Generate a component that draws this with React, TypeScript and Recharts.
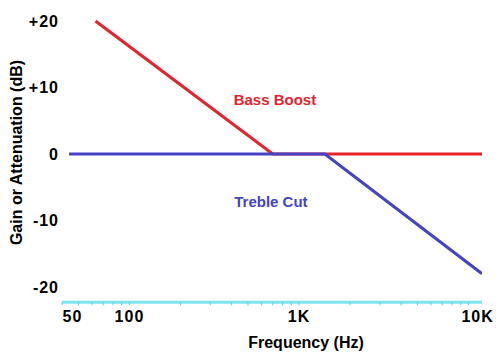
import { Line, LineChart, ReferenceDot, XAxis, YAxis } from "recharts";

// log-frequency axis, Hz
const freqTicks = [
  40, 50, 60, 70, 80, 90, 100, 200, 300, 400, 500, 600, 700, 800, 900, 1000,
  2000, 3000, 4000, 5000, 6000, 7000, 8000, 9000, 10000,
];
const freqLabels: Record<number, string> = { 50: "50", 100: "100", 1000: "1K", 10000: "10K" };
const gainTicks = [-20, -10, 0, 10, 20];

// bass boost: rises below ~700 Hz
const bassFreq = [63, 700, 12000];
const bassGain = [20, 0, 0];

// treble cut: falls above ~1.4 kHz
const trebleFreq = [44, 1420, 12000];
const trebleGain = [0, 0, -18];

const bass = bassFreq.map((f, i) => ({ f, db: bassGain[i] }));
const treble = trebleFreq.map((f, i) => ({ f, db: trebleGain[i] }));

const RED = "#e4232b";
const BLUE = "#4343c4";
const FONT = "'Liberation Sans', Arial, sans-serif";

// the original nudges the end labels a little off their ticks
const labelNudge: Record<number, number> = { 50: -6, 10000: 9 };

function FreqTick({ x, y, payload }: any) {
  const v = payload.value as number;
  const text = freqLabels[v];
  if (!text) return null;
  return (
    <text
      x={x + (labelNudge[v] ?? 0)}
      y={y}
      dy="0.71em"
      textAnchor="middle"
      fontSize={16}
      fontWeight="bold"
      letterSpacing={1}
      fill="#000"
      fontFamily={FONT}
    >
      {text}
    </text>
  );
}

export default function App() {
  return (
    <div style={{ position: "absolute", left: 0, top: 0, width: 500, height: 363, background: "#fff" }}>
      <LineChart
        width={500}
        height={363}
        margin={{ top: 5.7, right: 18, bottom: 10.7, left: 12 }}
        style={{ fontFamily: FONT }}
      >
        <XAxis
          dataKey="f"
          type="number"
          scale="log"
          domain={[40, 12000]}
          ticks={freqTicks}
          interval={0}
          allowDataOverflow
          height={50}
          stroke="#7de3ef"
          axisLine={{ stroke: "#7de3ef", strokeWidth: 3 }}
          tickLine={{ stroke: "#5cd3e3" }}
          tickSize={3}
          tickMargin={5}
          tick={<FreqTick />}
          label={{
            content: () => (
              <text x={306} y={348} textAnchor="middle" fontSize={16} fontWeight="bold" fill="#000" fontFamily={FONT}>
                Frequency (Hz)
              </text>
            ),
          }}
        />
        <YAxis
          type="number"
          domain={[-22.3, 22.3]}
          ticks={gainTicks}
          width={50}
          axisLine={false}
          tickLine={false}
          tickSize={0}
          tickMargin={3}
          tickFormatter={(v: number) => (v > 0 ? `+${v}` : `${v}`)}
          tick={{ fill: "#000", fontSize: 16, fontWeight: "bold", letterSpacing: 1, fontFamily: FONT }}
          label={{
            content: () => (
              <text
                x={16}
                y={152.5}
                transform="rotate(-90 16 152.5)"
                textAnchor="middle"
                dominantBaseline="central"
                fontSize={16}
                fontWeight="bold"
                fill="#000"
                fontFamily={FONT}
              >
                Gain or Attenuation (dB)
              </text>
            ),
          }}
        />
        <Line data={bass} dataKey="db" stroke={RED} strokeWidth={3} dot={false} isAnimationActive={false} />
        <Line data={treble} dataKey="db" stroke={BLUE} strokeWidth={3} dot={false} isAnimationActive={false} />
        <ReferenceDot
          x={721}
          y={8.1}
          r={0}
          fill="none"
          stroke="none"
          label={{ value: "Bass Boost", position: "center", fill: RED, fontSize: 15, fontWeight: "bold", fontFamily: FONT }}
        />
        <ReferenceDot
          x={683}
          y={-7.2}
          r={0}
          fill="none"
          stroke="none"
          label={{ value: "Treble Cut", position: "center", fill: BLUE, fontSize: 15, fontWeight: "bold", fontFamily: FONT }}
        />
      </LineChart>
    </div>
  );
}
